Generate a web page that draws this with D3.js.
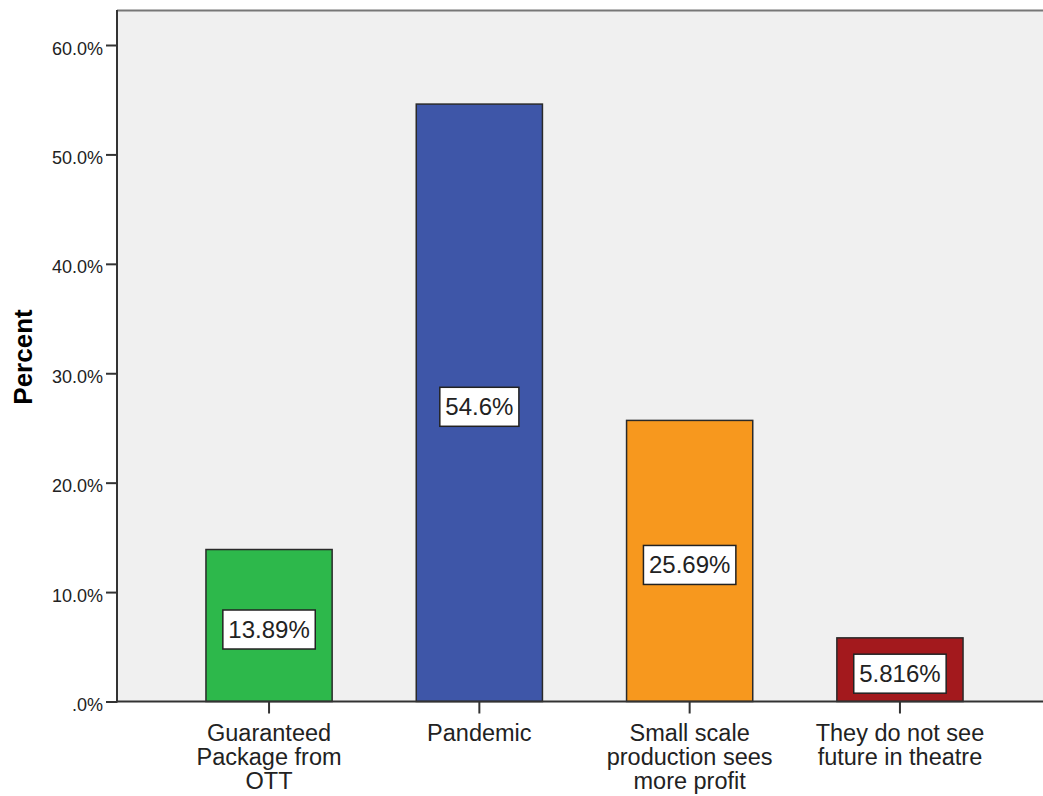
<!DOCTYPE html>
<html><head><meta charset="utf-8">
<script src="https://cdn.jsdelivr.net/npm/d3@7"></script>
<style>body{margin:0;background:#fff}svg{display:block;font-family:"Liberation Sans",Arial,sans-serif}</style>
</head><body><svg id="c" width="1043" height="796"></svg>
<script>
const categories = [["Guaranteed","Package from","OTT"],["Pandemic"],["Small scale","production sees","more profit"],["They do not see","future in theatre"]];
const keys = ["Guaranteed Package from OTT","Pandemic","Small scale production sees more profit","They do not see future in theatre"];
const values = [13.89, 54.6, 25.69, 5.816];
const valueLabels = ["13.89%","54.6%","25.69%","5.816%"];
const colors = ["#2db84b","#3e56a8","#f7981e","#a3191d"];
const yTicks = [0,10,20,30,40,50,60];
const yTickLabels = [".0%","10.0%","20.0%","30.0%","40.0%","50.0%","60.0%"];
const yTitle = "Percent";

const svg = d3.select("#c");
const L = 117, R = 1052, T = 10;
const y = d3.scaleLinear().domain([0,60]).range([701.5,45]);
const x = d3.scaleBand().domain(keys).range([L,R]).paddingInner(0.4).paddingOuter(0.423);

svg.append("rect").attr("x",L).attr("y",T).attr("width",R-L).attr("height",y(0)-T).attr("fill","#f0f0f0");
svg.append("line").attr("x1",L).attr("x2",R).attr("y1",T+0.5).attr("y2",T+0.5).attr("stroke","#777").attr("stroke-width",2);

// bars
svg.selectAll("rect.bar").data(values).enter().append("rect").attr("class","bar")
  .attr("x",(d,i)=>x(keys[i])).attr("width",x.bandwidth())
  .attr("y",d=>y(d)).attr("height",d=>y(0)-y(d))
  .attr("fill",(d,i)=>colors[i]).attr("stroke","#2a2a2a").attr("stroke-width",1.5);

// y axis
const ya = d3.axisLeft(y).tickValues(yTicks).tickSize(11).tickFormat((d,i)=>yTickLabels[i]);
const yg = svg.append("g").attr("transform",`translate(${L},0)`).call(ya);
yg.select(".domain").remove();
yg.selectAll(".tick line").attr("stroke","#333").attr("stroke-width",2);
yg.selectAll(".tick text").attr("font-size",18).attr("fill","#222").attr("x",-14).attr("dy","0.5em").attr("font-family","Liberation Sans, Arial, sans-serif");
svg.append("line").attr("x1",L).attr("x2",L).attr("y1",T).attr("y2",y(0)+1).attr("stroke","#333").attr("stroke-width",2);

// x axis
const xa = d3.axisBottom(x).tickSize(12).tickFormat("");
const xg = svg.append("g").attr("transform",`translate(0,${y(0)})`).call(xa);
xg.select(".domain").remove();
xg.selectAll(".tick line").attr("stroke","#333").attr("stroke-width",2);
svg.append("line").attr("x1",L).attr("x2",R).attr("y1",y(0)).attr("y2",y(0)).attr("stroke","#333").attr("stroke-width",2);

categories.forEach((lines,i)=>{
  const t = svg.append("text").attr("x",x(keys[i])+x.bandwidth()/2).attr("y",741)
    .attr("text-anchor","middle").attr("font-size",23.5).attr("fill","#222");
  lines.forEach((ln,j)=>t.append("tspan").attr("x",x(keys[i])+x.bandwidth()/2).attr("dy",j?24:0).text(ln));
});

// value labels
values.forEach((v,i)=>{
  const cx = x(keys[i])+x.bandwidth()/2, cy = (y(v)+y(0))/2+4;
  const g = svg.append("g");
  const t = g.append("text").attr("x",cx).attr("y",cy+8.5).attr("text-anchor","middle")
    .attr("font-size",24).attr("fill","#222").text(valueLabels[i]);
  const w = t.node().getComputedTextLength()+11;
  g.insert("rect","text").attr("x",cx-w/2).attr("y",cy-19.5).attr("width",w).attr("height",39)
    .attr("fill","#fff").attr("stroke","#222").attr("stroke-width",1.5);
});

svg.append("text").attr("transform","translate(32,357) rotate(-90)").attr("text-anchor","middle")
  .attr("font-size",26).attr("font-weight","bold").attr("fill","#000").text(yTitle);
</script></body></html>
